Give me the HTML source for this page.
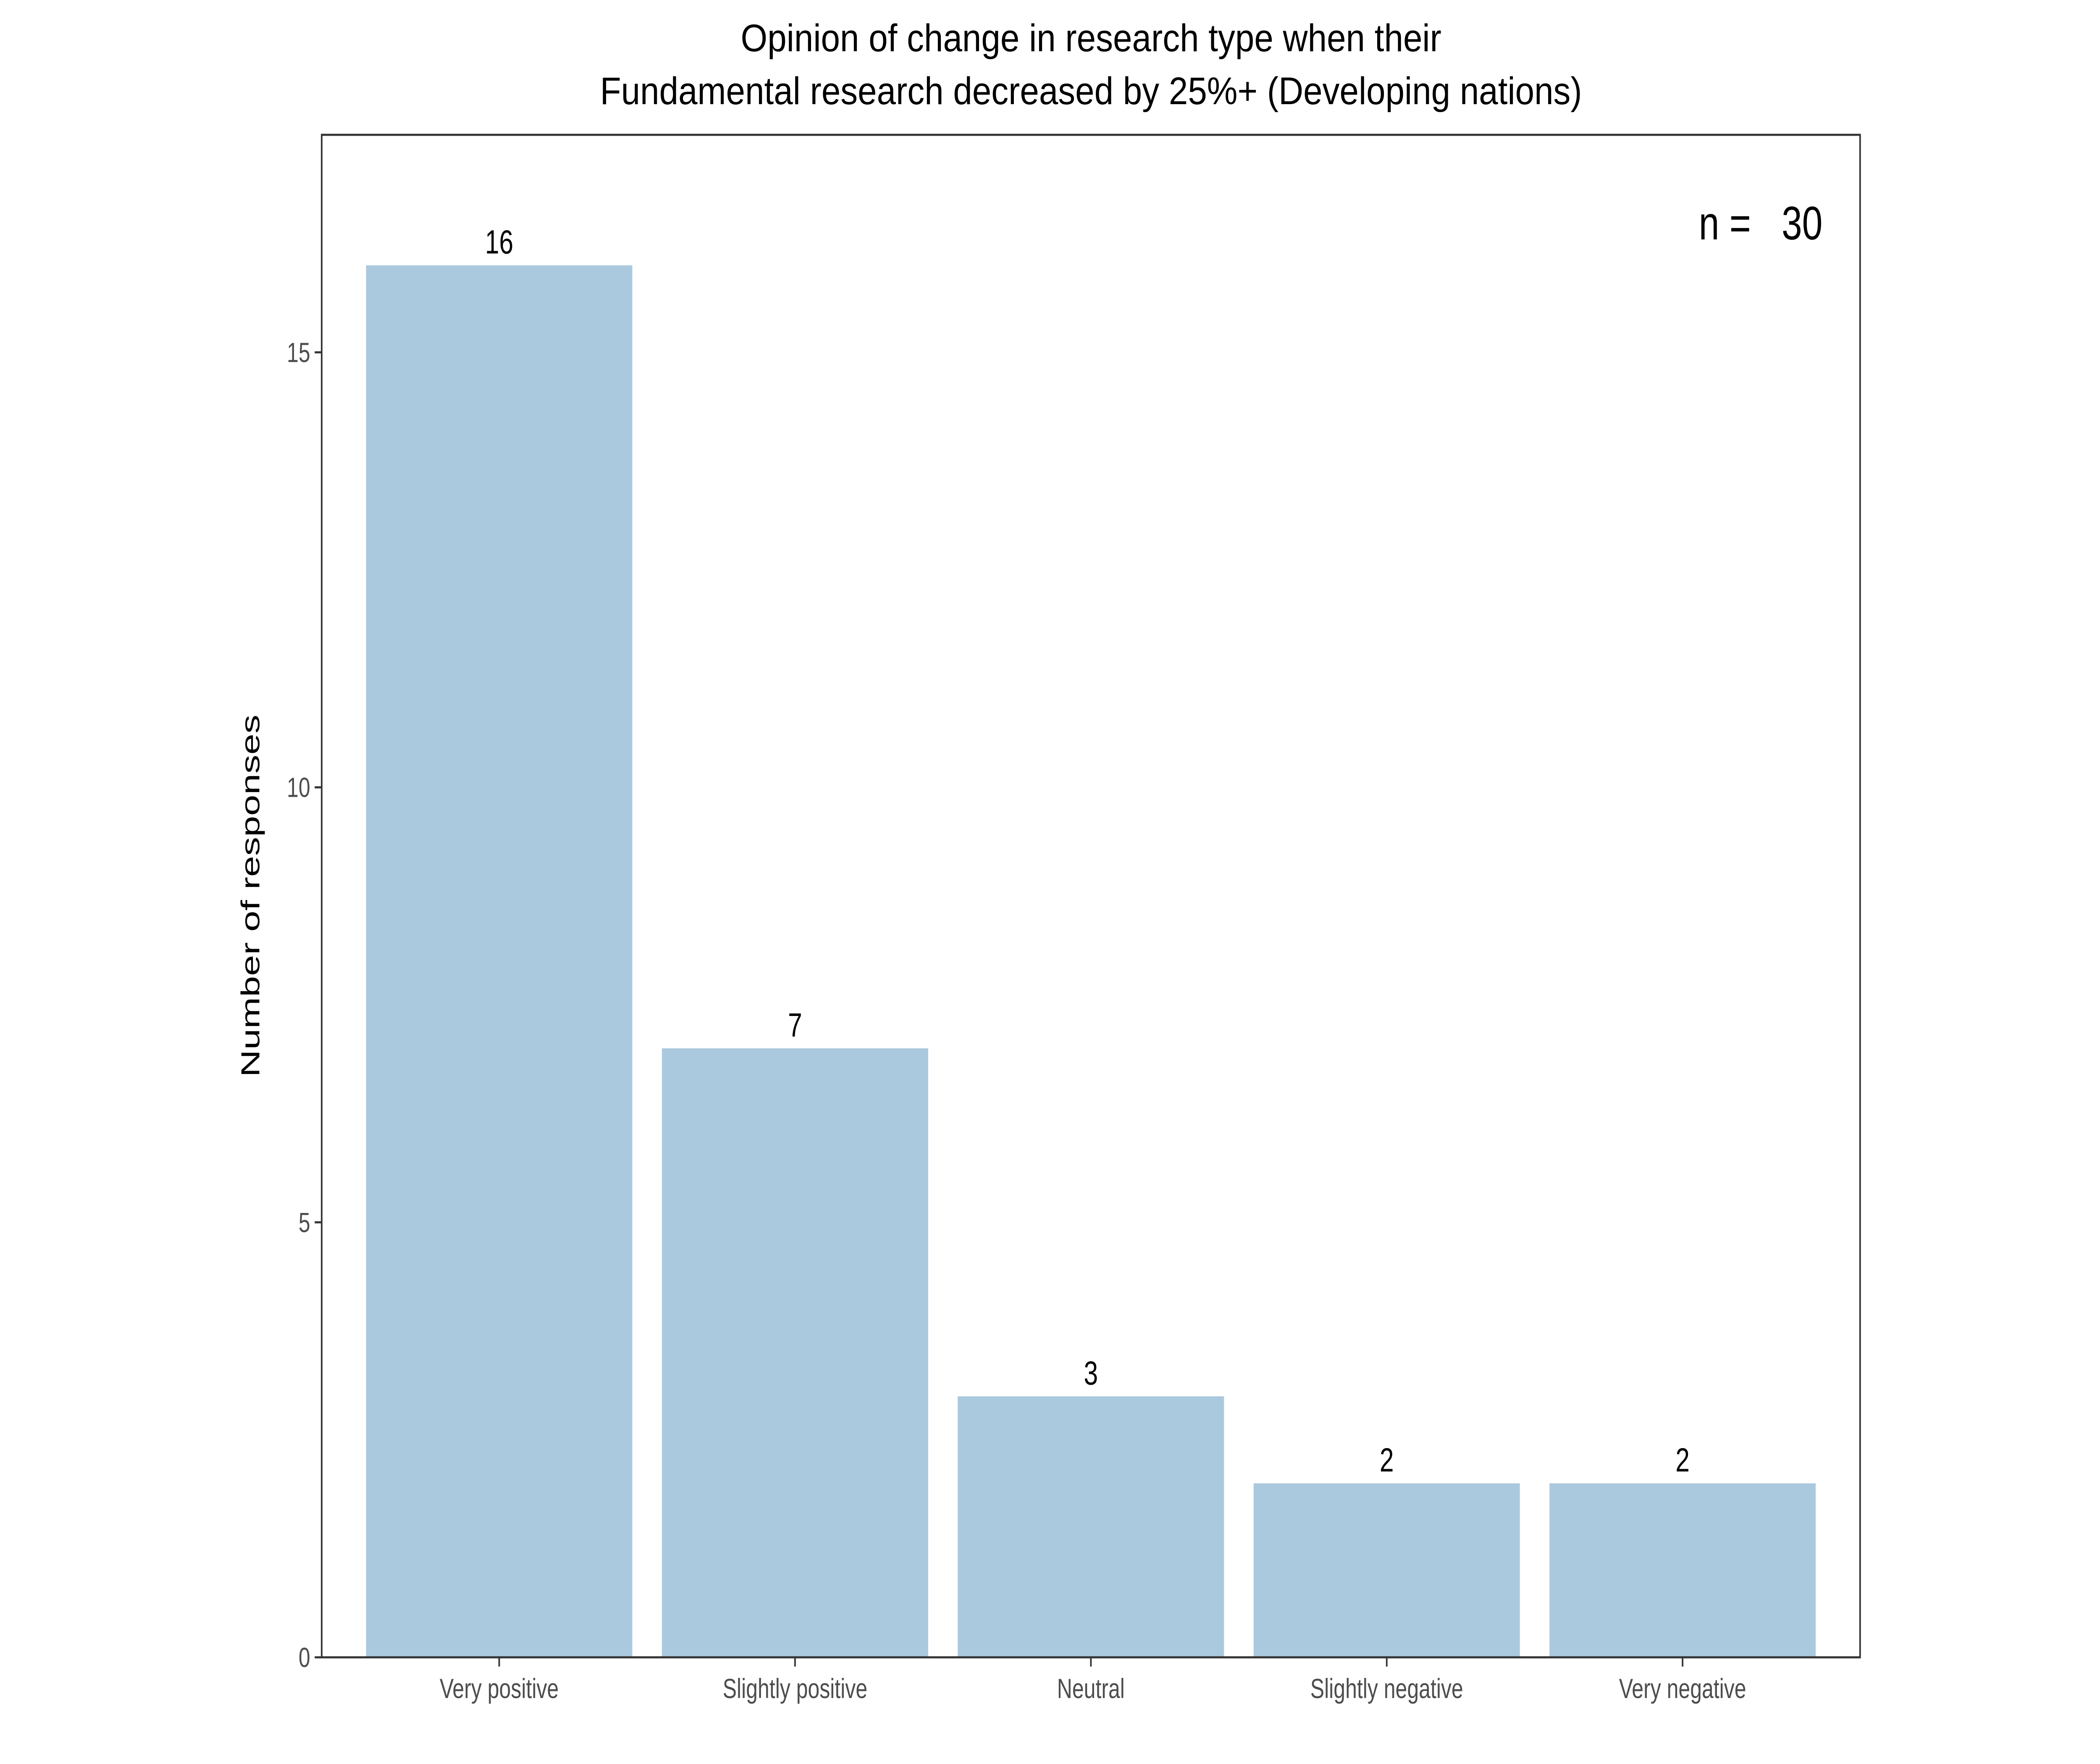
<!DOCTYPE html>
<html><head><meta charset="utf-8"><style>
html,body{margin:0;padding:0;background:#fff;width:100%;height:100%;overflow:hidden;}
svg{display:block;font-family:"Liberation Sans",Arial,sans-serif;width:100vw;height:100vh;}
</style></head><body>
<svg id="chart" viewBox="0 0 6600 4200" preserveAspectRatio="none" xmlns="http://www.w3.org/2000/svg">
<rect width="6600" height="4200" fill="#fff"/>
<text x="3429" y="122" font-size="92" text-anchor="middle" textLength="2202" lengthAdjust="spacingAndGlyphs">Opinion of change in research type when their</text>
<text x="3429" y="248" font-size="92" text-anchor="middle" textLength="3086" lengthAdjust="spacingAndGlyphs">Fundamental research decreased by 25%+ (Developing nations)</text>
<g id="bars"></g>
<g id="labels"></g>
<rect x="1011" y="321" width="4835" height="3625" fill="none" stroke="#333" stroke-width="5"/>
<g id="yaxis"></g>
<g id="xaxis"></g>
<text transform="translate(815,2133) rotate(-90)" font-size="82" text-anchor="middle" textLength="863" lengthAdjust="spacingAndGlyphs">Number of responses</text>
<text x="5339" y="570" font-size="112" textLength="389" lengthAdjust="spacingAndGlyphs">n =&#160;&#160;&#160;30</text>
</svg>
<script>
const categories = ["Very positive","Slightly positive","Neutral","Slightly negative","Very negative"];
const counts = [16,7,3,2,2];
const yTicks = [0,5,10,15];
const yTickLabels = ["0","5","10","15"];

const NS="http://www.w3.org/2000/svg";
const L=1011,R=5846,T=321,B=3946;
const yMax=17.5;
function xScale(i){return L+(i+1-0.4)*(R-L)/5.2;}
function yScale(v){return B-v*(B-T)/yMax;}
const bw=0.9*(R-L)/5.2;
function mk(tag,attrs,parent){const e=document.createElementNS(NS,tag);for(const k in attrs)e.setAttribute(k,attrs[k]);parent.appendChild(e);return e;}
const gb=document.getElementById('bars'),gl=document.getElementById('labels'),gy=document.getElementById('yaxis'),gx=document.getElementById('xaxis');
counts.forEach((v,i)=>{
  const cx=xScale(i);
  const r=mk('rect',{x:cx-bw/2,y:yScale(v),width:bw,height:yScale(0)-yScale(v),fill:'#abc9de'},gb);
  
  
  const t=mk('text',{x:cx,y:yScale(v)-28,'font-size':80,'text-anchor':'middle'},gl);
  t.textContent=String(v);
  
  
  const tk=mk('line',{x1:cx,x2:cx,y1:B,y2:B+22,stroke:'#333','stroke-width':5},gx);
  
  
  const xl=mk('text',{x:cx,y:4043,'font-size':66,'text-anchor':'middle',fill:'#4d4d4d'},gx);
  xl.textContent=categories[i];
  
  
});
yTicks.forEach((v,i)=>{
  const y=yScale(v);
  const tk=mk('line',{x1:L-22,x2:L,y1:y,y2:y,stroke:'#333','stroke-width':5},gy);
  
  
  const t=mk('text',{x:L-36,y:y+23,'font-size':66,'text-anchor':'end',fill:'#4d4d4d'},gy);
  t.textContent=yTickLabels[i];
  
  
});
</script>
</body></html>
